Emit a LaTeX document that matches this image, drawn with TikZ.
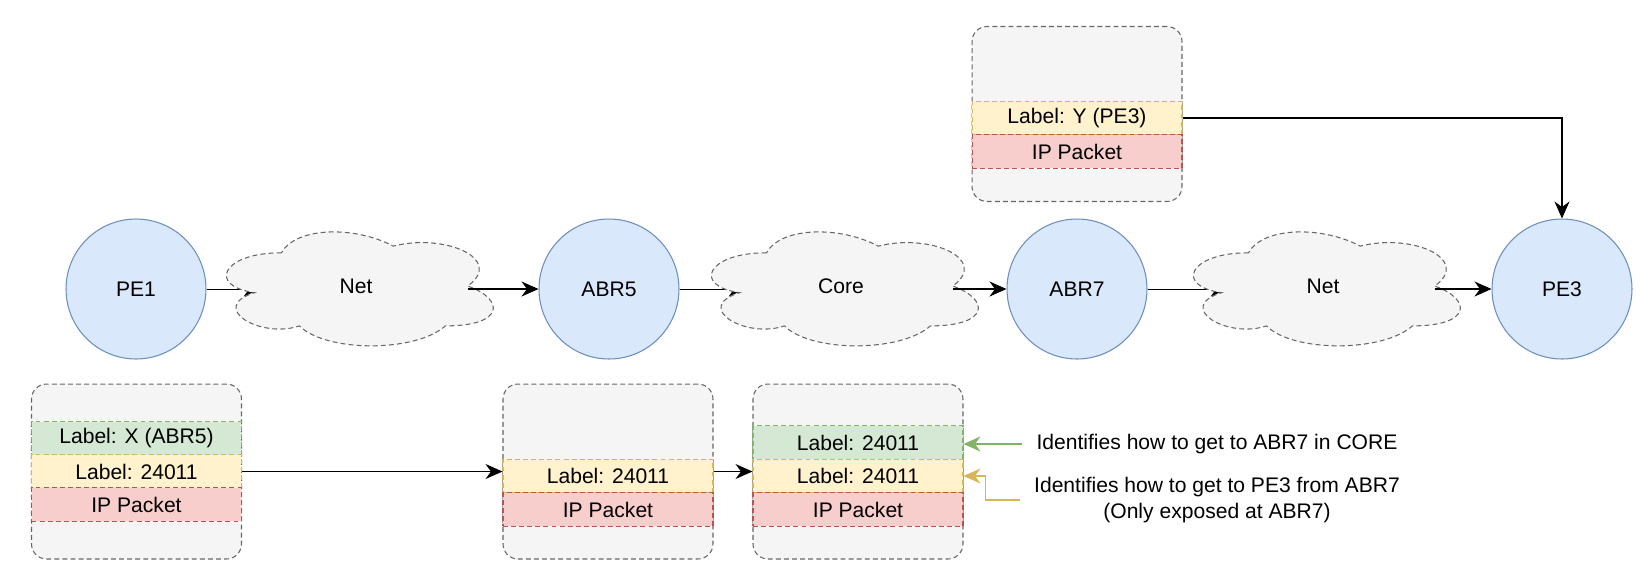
\documentclass[tikz,border=0pt]{standalone}
\usepackage{fontspec}
\setmainfont{Liberation Sans}
\usepackage{xcolor}
\usepackage{tikz}
\usetikzlibrary{positioning, arrows.meta, backgrounds}

\definecolor{routerfill}{HTML}{DAE8FC}
\definecolor{routerline}{HTML}{6C8EBF}
\definecolor{boxfill}{HTML}{F5F5F5}
\definecolor{boxline}{HTML}{666666}
\definecolor{greenfill}{HTML}{D5E8D4}
\definecolor{greenline}{HTML}{82B366}
\definecolor{yellowfill}{HTML}{FFF2CC}
\definecolor{yellowline}{HTML}{D6B656}
\definecolor{redfill}{HTML}{F8CECC}
\definecolor{redline}{HTML}{B85450}

% cloud: name, centre, text
\newcommand{\netcloud}[3]{%
	\begin{scope}[shift={(#2)},x=5.96cm,y=-2.66cm]
		\draw[cloudline] (-0.25,-0.25)
			.. controls (-0.45,-0.25) and (-0.5,0) .. (-0.34,0.05)
			.. controls (-0.5,0.16) and (-0.32,0.4) .. (-0.19,0.3)
			.. controls (-0.1,0.5) and (0.2,0.5) .. (0.3,0.3)
			.. controls (0.5,0.3) and (0.5,0.1) .. (0.375,0)
			.. controls (0.5,-0.2) and (0.3,-0.4) .. (0.125,-0.3)
			.. controls (0,-0.45) and (-0.2,-0.45) .. (-0.25,-0.25) -- cycle;
		\coordinate (#1-in) at (-0.32,0.05);
		\coordinate (#1-out) at (0.375,0);
	\end{scope}
	\node[inner sep=0pt](#1) at (#2){#3};}

\begin{document}
\begin{tikzpicture}[x=0.02cm,y=-0.02cm,line width=0.6pt,
	font=\fontsize{12}{14.5}\selectfont,
	>={Stealth[length=0.34cm,width=0.3cm]}]
	\tikzstyle{router}=[circle,draw=routerline,fill=routerfill,minimum size=2.8cm,inner sep=0pt]
	\tikzstyle{cloudline}=[draw=boxline,fill=boxfill,dash pattern=on 2.8pt off 1.8pt]
	\tikzstyle{holder}=[rectangle,rounded corners=0.3cm,draw=boxline,fill=boxfill,dash pattern=on 2.8pt off 1.8pt,minimum width=4.2cm,minimum height=3.5cm,inner sep=0pt]
	\tikzstyle{row}=[rectangle,dash pattern=on 2.8pt off 1.8pt,minimum width=4.2cm,minimum height=0.67cm,inner sep=0pt]
	\tikzstyle{greenrow}=[row,draw=greenline,fill=greenfill]
	\tikzstyle{yellowrow}=[row,draw=yellowline,fill=yellowfill]
	\tikzstyle{redrow}=[row,draw=redline,fill=redfill]
	\tikzstyle{note}=[align=center,inner xsep=0.28cm,inner ysep=0pt]
	\useasboundingbox (0,0) rectangle (1641,583);

	% routers and clouds
	\node[router](pe1) at (136,289){PE1};
	\node[router](abr5) at (609,289){ABR5};
	\node[router](abr7) at (1077,289){ABR7};
	\node[router](pe3) at (1562,289){PE3};
	\netcloud{net1}{356,286}{Net}
	\netcloud{core}{841,286}{Core}
	\netcloud{net2}{1323,286}{Net}
	\begin{scope}[on background layer]
		\draw[->] (pe1) -- (pe1 -| net1-in);
		\draw[->] (abr5) -- (abr5 -| core-in);
		\draw[->] (abr7) -- (abr7 -| net2-in);
	\end{scope}
	\draw[->] (net1-out |- abr5) -- (abr5);
	\draw[->] (core-out |- abr7) -- (abr7);
	\draw[->] (net2-out |- pe3) -- (pe3);

	% label stack towards PE3
	\node[holder](stacktop) at (1077,114){};
	\node[yellowrow](ytop) at (1077,118){Label: Y (PE3)};
	\node[redrow](iptop) at (1077,151.5){IP Packet};
	\draw[->] (ytop.east) -| (pe3.north);

	% label stacks along the path
	\node[holder](stacka) at (136.5,471.5){};
	\node[greenrow](agrn) at (136.5,438.5){Label: X (ABR5)};
	\node[yellowrow](ayel) at (136.5,471.5){Label: 24011};
	\node[redrow](aip) at (136.5,504.5){IP Packet};

	\node[holder](stackb) at (608,471.5){};
	\node[yellowrow](byel) at (608,476){Label: 24011};
	\node[redrow](bip) at (608,509.5){IP Packet};

	\node[holder](stackc) at (858,471.5){};
	\node[greenrow](cgrn) at (858,442.5){Label: 24011};
	\node[yellowrow](cyel) at (858,476){Label: 24011};
	\node[redrow](cip) at (858,509.5){IP Packet};

	\draw[->] (ayel.east) -- (ayel.east -| byel.west);
	\draw[->] (ayel.east -| byel.east) -- (ayel.east -| cyel.west);

	% notes
	\node[note](note1) at (1217,444){Identifies how to get to ABR7 in CORE};
	\node[note](note2) at (1217,500){Identifies how to get to PE3 from ABR7\\(Only exposed at ABR7)};
	\draw[->,greenline] (note1.west) -- (note1.west -| cgrn.east);
	\draw[->,yellowline] (note2.west) -- ++(-34,0) |- (cyel.east);
\end{tikzpicture}
\end{document}
